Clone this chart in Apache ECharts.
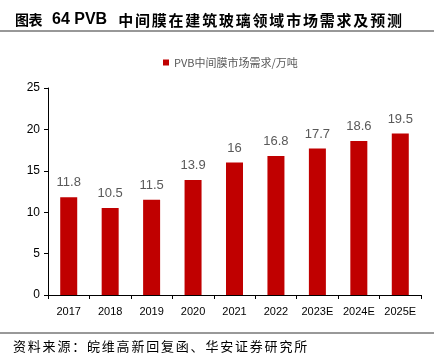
<!DOCTYPE html>
<html><head><meta charset="utf-8">
<script src="https://cdn.jsdelivr.net/npm/echarts@6/dist/echarts.min.js"></script>
<style>html,body{margin:0;padding:0;background:#fff}#c{width:434px;height:354px}</style>
</head><body><div id="c"></div>
<script>
const categories = ['2017','2018','2019','2020','2021','2022','2023E','2024E','2025E'];
const demand = [11.8, 10.5, 11.5, 13.9, 16, 16.8, 17.7, 18.6, 19.5];
const seriesName = 'PVB中间膜市场需求/万吨';
const titleParts = ['图表', '64 PVB', '中间膜在建筑玻璃领域市场需求及预测'];
const sourceText = '资料来源：皖维高新回复函、华安证券研究所';

function spaced(str, style) {
  return str.split('').map(ch => '{' + style + '|' + ch + '}').join('');
}
const titleRich = spaced(titleParts[0], 'a') + '{g| }{b|' + titleParts[1] + '}{g2| }' + spaced(titleParts[2], 'c');

const chart = echarts.init(document.getElementById('c'));
chart.setOption({
  animation: false,
  backgroundColor: '#fff',
  title: {
    text: titleRich, left: 15, top: 10, padding: 0,
    textStyle: {
      rich: {
        a: {fontFamily: 'Noto Sans CJK SC', fontSize: 14, fontWeight: 'bold', color: '#000', width: 13.5, lineHeight: 20},
        g: {fontSize: 10, width: 10, lineHeight: 20},
        b: {fontFamily: 'Liberation Sans', fontSize: 16, fontWeight: 'bold', color: '#000', lineHeight: 20},
        g2: {fontSize: 10, width: 11, lineHeight: 20},
        c: {fontFamily: 'Noto Sans CJK SC', fontSize: 15, fontWeight: 'bold', color: '#000', width: 16.8, lineHeight: 20}
      }
    }
  },
  legend: {
    top: 52, left: 158, itemWidth: 6, itemHeight: 6, icon: 'rect',
    textStyle: {fontFamily: 'Noto Sans CJK SC', fontSize: 11, color: '#595959'},
    data: [seriesName]
  },
  grid: {left: 48, right: 13, top: 88, bottom: 59},
  xAxis: {
    type: 'category', data: categories,
    axisLine: {lineStyle: {color: '#000', width: 1}},
    axisTick: {show: true, length: 4, lineStyle: {color: '#000'}},
    axisLabel: {color: '#000', fontSize: 11, fontFamily: 'Liberation Sans', margin: 11}
  },
  yAxis: {
    type: 'value', min: 0, max: 25, interval: 5,
    axisLine: {show: true, lineStyle: {color: '#000', width: 1}},
    axisTick: {show: true, length: 4, lineStyle: {color: '#000'}},
    splitLine: {show: false},
    axisLabel: {color: '#000', fontSize: 12, fontFamily: 'Liberation Sans', margin: 8}
  },
  series: [{
    name: seriesName, type: 'bar', data: demand, barWidth: 17,
    itemStyle: {color: '#C00000'},
    label: {show: true, position: 'top', distance: 8, color: '#595959', fontSize: 13, fontFamily: 'Liberation Sans'}
  }],
  graphic: [
    {type: 'line', shape: {x1: 0, y1: 31, x2: 434, y2: 31}, style: {stroke: '#333', lineWidth: 1.2}},
    {type: 'line', shape: {x1: 0, y1: 333, x2: 434, y2: 333}, style: {stroke: '#333', lineWidth: 1}},
    {type: 'text', left: 13, top: 340, style: {
      text: spaced(sourceText, 's'),
      rich: {s: {fontFamily: 'Noto Sans CJK SC', fontSize: 13, width: 14.8, lineHeight: 14, fill: '#000'}}
    }}
  ]
});
</script></body></html>
